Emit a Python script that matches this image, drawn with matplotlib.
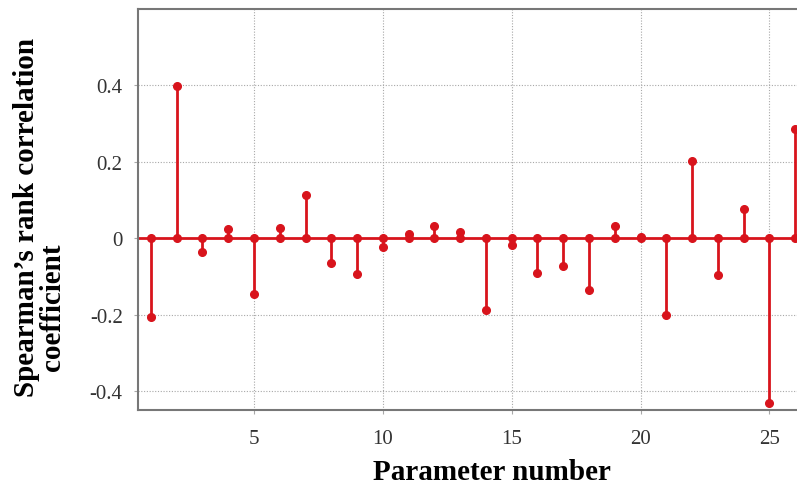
import matplotlib
matplotlib.use("Agg")
import matplotlib.pyplot as plt
import numpy as np

# Spearman's rank correlation coefficient for each model parameter
param_numbers = list(range(1, 27))
coefficients = [
    -0.207, 0.399, -0.036, 0.023, -0.145, 0.027, 0.113, -0.064, -0.095, -0.023,
    0.012, 0.032, 0.017, -0.188, -0.019, -0.092, -0.072, -0.137, 0.033, 0.002,
    -0.201, 0.202, -0.097, 0.076, -0.431, 0.285,
]
x_ticks = [5, 10, 15, 20, 25]
y_ticks = [-0.4, -0.2, 0.0, 0.2, 0.4]
y_tick_labels = ["-0.4", "-0.2", "0", "0.2", "0.4"]

red = "#d8141c"
serif = ["Liberation Serif", "DejaVu Serif"]

W, H = 797, 489
fig = plt.figure(figsize=(W / 100, H / 100), dpi=100)
ax = fig.add_axes([138 / W, 1 - 411 / H, 670 / W, 401 / H])

ax.set_xlim(0.5, 26.5)
ax.set_ylim(-0.45, 0.6)

ax.grid(True, color="#a8a8a8", linestyle=(0, (1, 1.5)), linewidth=0.8)
ax.set_axisbelow(True)

# baseline and stems
ax.axhline(0, color=red, linewidth=2.0, zorder=2)
ax.vlines(param_numbers, 0, coefficients, color=red, linewidth=2.0, zorder=3)
ax.plot(param_numbers, coefficients, "o", color=red, markersize=5.5, zorder=4)
ax.plot(param_numbers, np.zeros(len(param_numbers)), "o", color=red,
        markersize=5.5, zorder=4)

ax.set_xticks(x_ticks)
ax.set_yticks(y_ticks)
ax.set_yticklabels(y_tick_labels)
ax.tick_params(axis="both", length=3, color="#a8a8a8", labelsize=15,
               labelcolor="#333333")
ax.tick_params(axis="x", pad=11)
ax.tick_params(axis="y", pad=8)
for lab in ax.get_xticklabels() + ax.get_yticklabels():
    lab.set_family(serif)

for side in ("left", "top", "bottom"):
    ax.spines[side].set_color("#777777")
    ax.spines[side].set_linewidth(1.5)
ax.spines["right"].set_visible(False)

fig.text(492 / W, 1 - 472 / H, "Parameter number", family=serif, fontsize=21,
         fontweight="bold", ha="center", va="center")
fig.text(27 / W, 1 - 217 / H, "Spearman\u2019s rank correlation", family=serif,
         fontsize=21, fontweight="bold", rotation=90, ha="center", va="center")
fig.text(53 / W, 1 - 307 / H, "coefficient", family=serif, fontsize=21,
         fontweight="bold", rotation=90, ha="center", va="center")

fig.savefig("out.png", dpi=100)
